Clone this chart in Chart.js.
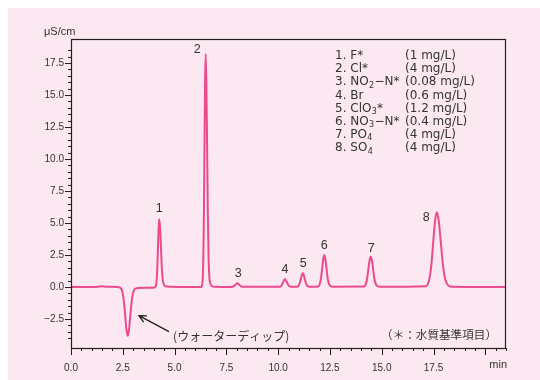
<!DOCTYPE html>
<html>
<head>
<meta charset="utf-8">
<script src="https://cdn.jsdelivr.net/npm/chart.js@4.4.1/dist/chart.umd.min.js"></script>
<style>
  html, body { margin: 0; padding: 0; background: #fff; }
  #wrap { width: 540px; height: 380px; }
</style>
</head>
<body>
<div id="wrap"><canvas id="chromChart" width="540" height="380"></canvas></div>
<script>
// ---------------- trace: retention time (min) / conductivity (uS/cm) ----------------
var times = [
  0, 0.8, 1.3, 1.5, 1.7, 2.2,                                   // baseline
  2.38, 2.44, 2.5, 2.56, 2.62, 2.68, 2.74,                      // water dip
  2.8, 2.86, 2.92, 2.98, 3.04, 3.1, 3.2, 3.6, 4.05,
  4.11, 4.14, 4.17, 4.2, 4.23, 4.26, 4.3, 4.34, 4.38, 4.42, 4.46, 4.52, 4.65, 5.2,   // 1
  6.25, 6.335, 6.363, 6.39, 6.418, 6.445, 6.473, 6.5, 6.535, 6.57, 6.605, 6.64, 6.675, 6.72, 6.8, 6.95, // 2
  7.76, 7.85, 7.94, 7.985, 8.03, 8.075, 8.12, 8.21, 8.32,                           // 3
  10.06, 10.15, 10.24, 10.285, 10.33, 10.375, 10.42, 10.51, 10.62,                  // 4
  10.92, 11.01, 11.1, 11.145, 11.19, 11.235, 11.28, 11.37, 11.46, 11.56,            // 5
  11.93, 12.03, 12.08, 12.13, 12.18, 12.23, 12.28, 12.33, 12.38, 12.43, 12.5, 12.62, // 6
  14.14, 14.25, 14.305, 14.36, 14.415, 14.47, 14.525, 14.58, 14.635, 14.69, 14.77, 14.9, // 7
  17.15, 17.235, 17.32, 17.405, 17.49, 17.575, 17.66, 17.755, 17.85, 17.945, 18.04, 18.135, 18.23, 18.4, 21 // 8
];
var signal = [
  0, 0, 0.02, 0.06, 0.02, 0,
  -0.05, -0.18, -0.52, -1.23, -2.3, -3.35, -3.82,
  -3.35, -2.3, -1.25, -0.58, -0.26, -0.14, -0.09, -0.07, -0.04,
  0.2, 0.68, 1.66, 3.2, 4.64, 5.29, 4.64, 3.2, 1.66, 0.7, 0.3, 0.1, 0.03, 0,
  0, 0.2, 0.8, 2.46, 5.82, 11.1, 16.0, 18.2, 16.0, 11.1, 5.82, 2.46, 0.85, 0.3, 0.08, 0.02,
  0, 0.04, 0.18, 0.255, 0.29, 0.255, 0.18, 0.05, 0.01,
  0.01, 0.08, 0.37, 0.53, 0.6, 0.53, 0.37, 0.1, 0.02,
  0.01, 0.14, 0.65, 0.94, 1.07, 0.94, 0.65, 0.17, 0.04, 0.01,
  0.03, 0.34, 0.8, 1.53, 2.2, 2.5, 2.2, 1.53, 0.8, 0.36, 0.1, 0.02,
  0.03, 0.32, 0.76, 1.45, 2.09, 2.37, 2.09, 1.45, 0.76, 0.34, 0.1, 0.02,
  0.06, 0.26, 0.79, 1.87, 3.56, 5.14, 5.84, 5.14, 3.56, 1.87, 0.79, 0.3, 0.1, 0.02, 0
];

// peak numbers and where their tops are
var peakNames = ['1', '2', '3', '4', '5', '6', '7', '8'];
var peakTimes = [4.26, 6.5, 8.03, 10.33, 11.19, 12.23, 14.47, 17.66];

// legend: ion (_ = next char is subscript) and standard concentration
var ions = ['F*', 'Cl*', 'NO_2\u2212N*', 'Br', 'ClO_3*', 'NO_3\u2212N*', 'PO_4', 'SO_4'];
var concs = ['(1 mg/L)', '(4 mg/L)', '(0.08 mg/L)', '(0.6 mg/L)', '(1.2 mg/L)', '(0.4 mg/L)', '(4 mg/L)', '(4 mg/L)'];

var yMin = -4.77, yMax = 19.38;
var xMin = 0, xMax = 21;

// ---------------- styles ----------------
var FONT = "'Liberation Sans', 'Noto Sans CJK JP', sans-serif";
var WIDE = "'DejaVu Sans', 'Noto Sans CJK JP', sans-serif";
var JP_FONT = "'Noto Sans CJK JP', sans-serif";
var INK = '#231f20';
var TEXT = '#333333';
var labelShift = [[0, -11], [-8.3, -5], [1, -10], [0, -9.5], [0.5, -9.5], [0, -9], [0.5, -8.5], [-10.5, 5.5]];

function onHalf(v) { return Math.abs(v * 2 - Math.round(v * 2)) < 1e-6; }
function onMajor(v) { return Math.abs(v / 2.5 - Math.round(v / 2.5)) < 1e-6; }

function drawIon(c, str, x, y) {
  for (var i = 0; i < str.length; i++) {
    if (str[i] === '_') {
      i++;
      c.font = '8px ' + WIDE;
      c.fillText(str[i], x + 0.3, y + 3.5);
      x += c.measureText(str[i]).width + 0.6;
      c.font = '12px ' + WIDE;
    } else {
      c.fillText(str[i], x, y);
      x += c.measureText(str[i]).width;
    }
  }
}

function arrow(c, x0, y0, x1, y1) {
  var ang = Math.atan2(y1 - y0, x1 - x0);
  c.beginPath();
  c.moveTo(x0, y0);
  c.lineTo(x1, y1);
  c.moveTo(x1 - 8 * Math.cos(ang - 0.45), y1 - 8 * Math.sin(ang - 0.45));
  c.lineTo(x1, y1);
  c.lineTo(x1 - 8 * Math.cos(ang + 0.45), y1 - 8 * Math.sin(ang + 0.45));
  c.stroke();
}

var panel = {
  id: 'panel',
  beforeDraw: function (chart) {
    var c = chart.ctx;
    c.save();
    c.fillStyle = '#ffffff';
    c.fillRect(0, 0, chart.width, chart.height);
    c.fillStyle = '#fce8f1';
    c.fillRect(8, 8, chart.width - 8, chart.height - 8);
    c.restore();
  },
  afterDraw: function (chart) {
    var c = chart.ctx, a = chart.chartArea;
    var xs = chart.scales.x, ys = chart.scales.y;
    c.save();

    // frame
    c.strokeStyle = INK;
    c.lineWidth = 1.2;
    c.strokeRect(a.left + 0.5, a.top + 0.5, a.right - a.left - 1, a.bottom - a.top);

    // tick marks, long on labelled values
    c.lineWidth = 1;
    c.beginPath();
    ys.ticks.forEach(function (t) {
      if (!onHalf(t.value)) return;
      var py = Math.round(ys.getPixelForValue(t.value)) + 0.5;
      var len = onMajor(t.value) ? 6 : 3;
      c.moveTo(a.left - len, py);
      c.lineTo(a.left, py);
    });
    xs.ticks.forEach(function (t) {
      if (!onHalf(t.value)) return;
      var px = Math.round(xs.getPixelForValue(t.value)) + 0.5;
      var len = onMajor(t.value) ? 7 : 3;
      c.moveTo(px, a.bottom);
      c.lineTo(px, a.bottom + len);
    });
    c.stroke();

    // units
    c.fillStyle = TEXT;
    c.font = '11px ' + FONT;
    c.textBaseline = 'middle';
    c.textAlign = 'left';
    c.fillText('\u03bcS/cm', a.left - 27, a.top - 7);
    c.textAlign = 'right';
    c.fillText('min', a.right + 1, a.bottom + 17);

    // peak numbers
    c.font = '12.5px ' + FONT;
    c.textAlign = 'center';
    peakNames.forEach(function (name, i) {
      var k = times.indexOf(peakTimes[i]);
      var px = xs.getPixelForValue(peakTimes[i]) + labelShift[i][0];
      var py = ys.getPixelForValue(signal[k]) + labelShift[i][1];
      c.fillText(name, px, py);
    });

    // legend block
    c.textAlign = 'left';
    var lx = a.left + 264, cx = a.left + 334, ly = a.top + 17;
    ions.forEach(function (ion, i) {
      var yy = ly + i * 13.15;
      c.font = '12px ' + WIDE;
      c.fillText((i + 1) + '. ', lx, yy);
      drawIon(c, ion, lx + c.measureText((i + 1) + '. ').width, yy);
      c.font = '12px ' + WIDE;
      c.fillText(concs[i], cx, yy);
    });

    // water dip note
    c.strokeStyle = '#222';
    c.lineWidth = 1.3;
    arrow(c, xs.getPixelForValue(4.73), ys.getPixelForValue(-3.49),
             xs.getPixelForValue(3.28), ys.getPixelForValue(-2.24));
    c.font = '12px ' + JP_FONT;
    c.fillText('(\u30a6\u30a9\u30fc\u30bf\u30fc\u30c7\u30a3\u30c3\u30d7)', xs.getPixelForValue(4.93), ys.getPixelForValue(-3.88));
    c.font = '11.6px ' + JP_FONT;
    c.textAlign = 'right';
    c.fillText('\uff08\uff0a\uff1a\u6c34\u8cea\u57fa\u6e96\u9805\u76ee\uff09', a.right - 9, ys.getPixelForValue(-3.7));

    c.restore();
  }
};

new Chart('chromChart', {
  type: 'line',
  data: {
    datasets: [{
      data: times.map(function (t, i) { return { x: t, y: signal[i] }; }),
      borderColor: '#eb4a8f',
      borderWidth: 2,
      pointRadius: 0,
      cubicInterpolationMode: 'monotone',
      fill: false
    }]
  },
  options: {
    responsive: false,
    animation: false,
    layout: { padding: { left: 0, top: 39, right: 34, bottom: 0 } },
    plugins: {
      legend: { display: false },
      title: { display: false },
      tooltip: { enabled: false }
    },
    scales: {
      x: {
        type: 'linear',
        min: xMin,
        max: xMax,
        border: { display: false },
        grid: { display: false, drawTicks: false },
        afterFit: function (s) { s.height = 32; },
        ticks: {
          stepSize: 0.5,
          autoSkip: false,
          maxRotation: 0,
          padding: 14,
          color: TEXT,
          font: { family: FONT, size: 10 },
          callback: function (v) { return onMajor(v) && v < 20 ? v.toFixed(1) : ''; }
        }
      },
      y: {
        min: yMin,
        max: yMax,
        border: { display: false },
        grid: { display: false, drawTicks: false },
        afterFit: function (s) { s.width = 71; },
        ticks: {
          stepSize: 0.5,
          autoSkip: false,
          padding: 7,
          color: TEXT,
          font: { family: FONT, size: 10 },
          callback: function (v) {
            if (!onMajor(v)) return '';
            return v < 0 ? '\u2212' + Math.abs(v).toFixed(1) : v.toFixed(1);
          }
        }
      }
    }
  },
  plugins: [panel]
});
</script>
</body>
</html>
